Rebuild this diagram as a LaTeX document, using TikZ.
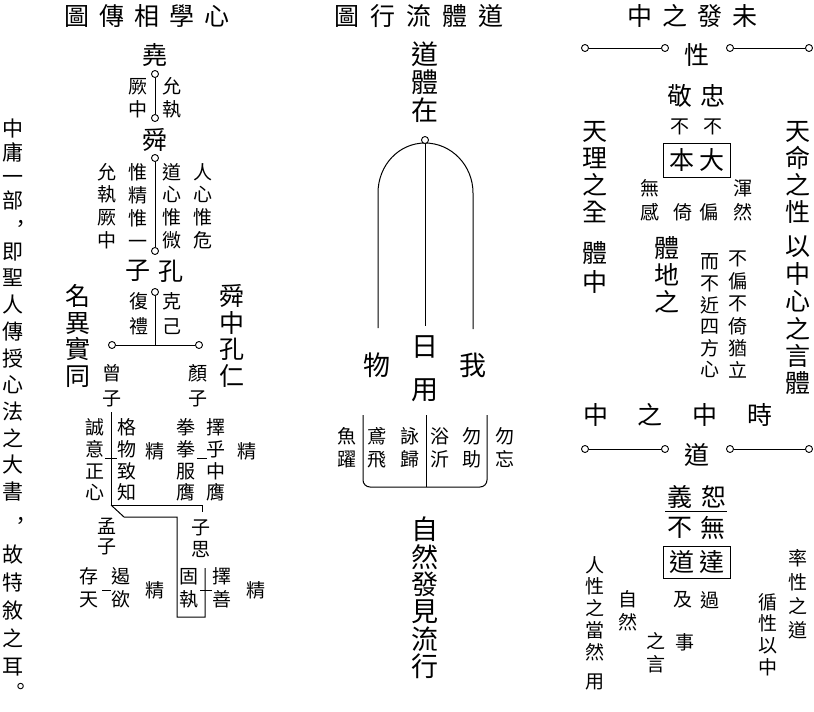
\documentclass[tikz,border=0pt]{standalone}
\usepackage{fontspec}
\setmainfont{Noto Sans CJK TC}
\usetikzlibrary{positioning}
\tikzset{
	bigchar/.style={inner sep=0pt, align=center, font=\fontsize{25}{#1}\selectfont},
	bigchar/.default=27,
	hugechar/.style={inner sep=0pt, align=center, font=\fontsize{27}{#1}\selectfont},
	hugechar/.default=28,
	sidechar/.style={inner sep=0pt, align=center, font=\fontsize{21}{#1}\selectfont},
	sidechar/.default=26,
	smallchar/.style={inner sep=0pt, align=center, font=\fontsize{19}{#1}\selectfont},
	smallchar/.default=22.5,
	ringnode/.style={circle, draw, fill=white, line width=0.9pt, inner sep=0pt, minimum size=7pt},
	boxnode/.style={rectangle, draw, inner sep=0pt, minimum width=67pt, minimum height=34pt, font=\fontsize{25}{27}\selectfont}
}
\begin{document}
\begin{tikzpicture}[x=1pt, y=-1pt, line width=1pt]
	\useasboundingbox (0,0) rectangle (814,712);

	% side note
	\node[sidechar=24] (notea) at (13,164) {中\\庸\\一\\部};
	\node[sidechar] (commaa) at (21,226) {，};
	\node[sidechar=26.7] (noteb) at (13,372) {即\\聖\\人\\傳\\授\\心\\法\\之\\大\\書};
	\node[sidechar] (commab) at (21,523) {，};
	\node[sidechar=28] (notec) at (13,611) {故\\特\\敘\\之\\耳};
	\node[sidechar] (stop) at (21,689) {。};

	% left: heart learning
	\node[bigchar] (lefttitle) at (147,16) {圖\hspace{10pt}傳\hspace{10pt}相\hspace{10pt}學\hspace{10pt}心};
	\node[bigchar] (yao) at (155,55) {堯};
	\node[ringnode] (yaoring) at (155,74) {};
	\node[ringnode] (shunring) at (155,118) {};
	\draw (yaoring) -- (shunring);
	\node[smallchar] (juezhong) at (138,98) {厥\\中};
	\node[smallchar] (yunzhi) at (172,98) {允\\執};
	\node[bigchar] (shun) at (155,140) {舜};
	\node[ringnode] (shunringb) at (155,158) {};
	\node[ringnode] (kongring) at (155,251) {};
	\draw (shunringb) -- (kongring);
	\node[smallchar=22.7] (yunzhib) at (107,206) {允\\執\\厥\\中};
	\node[smallchar=22.7] (weijing) at (138,206) {惟\\精\\惟\\一};
	\node[smallchar=22.7] (daoxin) at (172,206) {道\\心\\惟\\微};
	\node[smallchar=22.7] (renxin) at (203,206) {人\\心\\惟\\危};
	\node[bigchar] (zi) at (138,271) {子};
	\node[bigchar] (kong) at (171,271) {孔};
	\node[ringnode] (kongringb) at (155,292) {};
	\coordinate (fork) at (155,345);
	\node[ringnode] (zengring) at (112,345) {};
	\node[ringnode] (yanring) at (199,345) {};
	\draw (kongringb) -- (fork);
	\draw (zengring) -- (yanring);
	\node[smallchar=25] (fuli) at (139,314) {復\\禮};
	\node[smallchar=25] (keji) at (172,314) {克\\己};
	\node[bigchar=26.5] (mingyi) at (78,336) {名\\異\\實\\同};
	\node[bigchar=26.5] (shunzhong) at (232,336) {舜\\中\\孔\\仁};
	\node[smallchar=25] (zengzi) at (112,386) {曾\\子};
	\node[smallchar=25] (yanzi) at (198,386) {顏\\子};

	\coordinate (zengtop) at (111,412);
	\coordinate (zengfoot) at (111,505);
	\coordinate (zisitop) at (202,512);
	\draw (zengtop) -- (zengfoot) -- (202,505) -- (zisitop);
	\node[smallchar=21.7] (chengyi) at (95,460) {誠\\意\\正\\心};
	\node[smallchar=21.7] (gewu) at (127,460) {格\\物\\致\\知};
	\node[smallchar] (jinga) at (155,451) {精};
	\node[smallchar=21.7] (quanquan) at (186,460) {拳\\拳\\服\\膺};
	\node[smallchar=21.7] (zeyong) at (216,460) {擇\\乎\\中\\膺};
	\node[smallchar] (jingb) at (247,451) {精};
	\draw (105,458) -- (117,458);
	\draw (197,458) -- (207,458);

	\coordinate (guzhiend) at (205,568);
	\draw (zengfoot) -- (124,517) -- (177,517) -- (177,617) -- (205,617) -- (guzhiend);
	\draw (200,590) -- (212,590);
	\node[smallchar=20] (mengzi) at (107,537) {孟\\子};
	\node[smallchar=22] (zisi) at (201,539) {子\\思};
	\node[smallchar=23] (cuntian) at (89,588) {存\\天};
	\draw (102,590) -- (111,590);
	\node[smallchar=23] (eyu) at (121,588) {遏\\欲};
	\node[smallchar] (jingc) at (155,590) {精};
	\node[smallchar=23] (guzhi) at (189,588) {固\\執};
	\node[smallchar=23] (zeshan) at (222,588) {擇\\善};
	\node[smallchar] (jingd) at (256,590) {精};

	% middle: the way flows
	\node[bigchar] (midtitle) at (419,16) {圖\hspace{11pt}行\hspace{11pt}流\hspace{11pt}體\hspace{11pt}道};
	\node[hugechar] (daoti) at (425,82) {道\\體\\在};
	\coordinate (wufoot) at (378,328);
	\coordinate (wofoot) at (473,329);
	\coordinate (rifoot) at (425,326);
	\draw (wufoot) -- (378,193) .. controls (378,165) and (399,143) .. (425,143) .. controls (451,143) and (473,165) .. (473,193) -- (wofoot);
	\node[ringnode] (tiring) at (425,140) {};
	\draw (tiring) -- (rifoot);
	\node[hugechar] (wu) at (377,365) {物};
	\node[hugechar] (ri) at (425,347) {日};
	\node[hugechar] (yong) at (425,390) {用};
	\node[hugechar] (wo) at (473,365) {我};
	\coordinate (kuoa) at (363,415);
	\coordinate (kuob) at (487,415);
	\coordinate (kuoc) at (426,415);
	\coordinate (kuod) at (426,487);
	\draw[rounded corners=7pt] (kuoa) -- (363,487) -- (487,487) -- (kuob);
	\draw (kuoc) -- (kuod);
	\node[smallchar=23] (yuyue) at (347,448) {魚\\躍};
	\node[smallchar=23] (yuanfei) at (377,448) {鳶\\飛};
	\node[smallchar=23] (yonggui) at (410,448) {詠\\歸};
	\node[smallchar=23] (yuyi) at (440,448) {浴\\沂};
	\node[smallchar=23] (wuzhu) at (472,448) {勿\\助};
	\node[smallchar=23] (wuwang) at (505,448) {勿\\忘};
	\node[hugechar=27.4] (ziran) at (425,598) {自\\然\\發\\見\\流\\行};

	% right: the mean
	\node[bigchar] (righttitle) at (692,16) {中\hspace{10pt}之\hspace{10pt}發\hspace{10pt}未};
	\node[ringnode] (xinga) at (585,48) {};
	\node[ringnode] (xingb) at (665,48) {};
	\node[ringnode] (xingc) at (730,48) {};
	\node[ringnode] (xingd) at (809,48) {};
	\draw (xinga) -- (xingb);
	\draw (xingc) -- (xingd);
	\node[bigchar] (xing) at (697,55) {性};
	\node[bigchar] (jing) at (680,96) {敬};
	\node[bigchar] (zhong) at (713,96) {忠};
	\node[smallchar] (bua) at (680,127) {不};
	\node[smallchar] (bub) at (713,127) {不};
	\node[boxnode] (benda) at (697,160) {本\hspace{5pt}大};
	\node[bigchar=27] (tianli) at (595,172.5) {天\\理\\之\\全};
	\node[bigchar=29] (tizhong) at (595,267.5) {體\\中};
	\node[bigchar=27] (tianming) at (798,172.5) {天\\命\\之\\性};
	\node[bigchar=27.4] (yizhong) at (798,315.5) {以\\中\\心\\之\\言\\體};
	\node[smallchar=24] (wugan) at (650,200) {無\\感};
	\node[smallchar] (yi) at (683,212) {倚};
	\node[smallchar] (pian) at (709,212) {偏};
	\node[smallchar=24] (hunran) at (743,200) {渾\\然};
	\node[bigchar] (tidi) at (667,275) {體\\地\\之};
	\node[smallchar=21.6] (erbu) at (710,316) {而\\不\\近\\四\\方\\心};
	\node[smallchar=22.4] (bupian) at (738,315) {不\\偏\\不\\倚\\猶\\立};
	\node[bigchar] (zhonga) at (596,415) {中};
	\node[bigchar] (zhib) at (650,415) {之};
	\node[bigchar] (zhongc) at (705,415) {中};
	\node[bigchar] (shi) at (760,415) {時};
	\node[ringnode] (daoa) at (585,449) {};
	\node[ringnode] (daob) at (665,449) {};
	\node[ringnode] (daoc) at (730,449) {};
	\node[ringnode] (daod) at (809,449) {};
	\draw (daoa) -- (daob);
	\draw (daoc) -- (daod);
	\node[bigchar] (dao) at (697,455) {道};
	\node[bigchar] (yiyi) at (680,497) {義};
	\node[bigchar] (shu) at (714,497) {恕};
	\coordinate (hengl) at (665,511);
	\coordinate (hengr) at (727,511);
	\draw (hengl) -- (hengr);
	\node[bigchar] (buc) at (680,528) {不};
	\node[bigchar] (wu2) at (713,528) {無};
	\node[boxnode, minimum height=32pt] (daoda) at (697,562) {道\hspace{5pt}達};
	\node[smallchar=21.75] (renxing) at (595,608.5) {人\\性\\之\\當\\然};
	\node[smallchar] (yongb) at (595,682) {用};
	\node[smallchar=23] (zirana) at (628,611) {自\\然};
	\node[smallchar=23] (zhiyan) at (656,653) {之\\言};
	\node[smallchar] (ji) at (683,600) {及};
	\node[smallchar] (shib) at (685,642) {事};
	\node[smallchar] (guo) at (710,600) {過};
	\node[smallchar=21.7] (xunxing) at (768,634.5) {循\\性\\以\\中};
	\node[smallchar=24] (shuaixing) at (798,594) {率\\性\\之\\道};
\end{tikzpicture}
\end{document}
